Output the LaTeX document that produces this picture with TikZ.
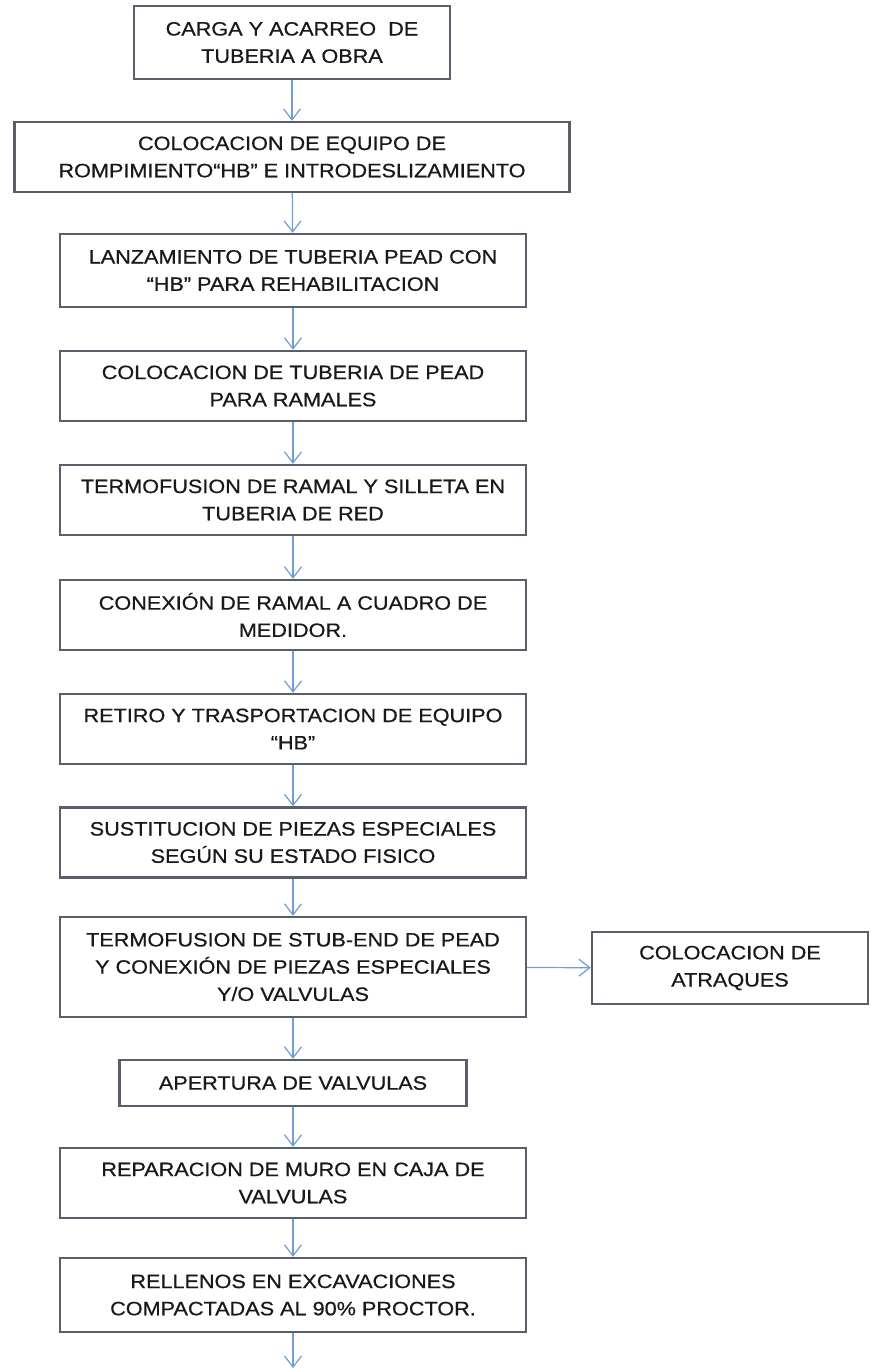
\documentclass[tikz,border=0pt]{standalone}
\usepackage{fontspec}
\setmainfont{Liberation Sans}[FakeStretch=1.12, FakeBold=0.6]
\usepackage{tikz}
\usetikzlibrary{arrows.meta}

\definecolor{borde}{RGB}{90,94,104}
\definecolor{azul}{RGB}{112,158,212}
\definecolor{texto}{RGB}{25,25,25}

\tikzset{
  caja/.style={draw=borde, line width=1.4pt, fill=white, align=center, text=texto,
    inner sep=0pt, font=\fontsize{11}{15.5}\selectfont, minimum width=9.32cm, minimum height=1.4cm},
  flecha/.style={draw=azul, line width=0.7pt, -{Straight Barb[length=2.2mm,width=3.4mm]}}
}

\begin{document}
\begin{tikzpicture}[x=0.02cm, y=-0.02cm]

  \useasboundingbox (0,0) rectangle (870,1368);

  \node[caja, minimum width=6.32cm, minimum height=1.46cm] (carga) at (292, 42.5)
    {CARGA Y ACARREO\ \ DE\\TUBERIA A OBRA};
  \node[caja, minimum width=11.1cm] (equipo) at (292, 157)
    {COLOCACION DE EQUIPO DE\\ROMPIMIENTO“HB” E INTRODESLIZAMIENTO};
  \node[caja, minimum height=1.46cm] (lanzamiento) at (293, 270.5)
    {LANZAMIENTO DE TUBERIA PEAD CON\\“HB” PARA REHABILITACION};
  \node[caja] (ramales) at (293, 386)
    {COLOCACION DE TUBERIA DE PEAD\\PARA RAMALES};
  \node[caja] (silleta) at (293, 500)
    {TERMOFUSION DE RAMAL Y SILLETA EN\\TUBERIA DE RED};
  \node[caja] (medidor) at (293, 615)
    {CONEXIÓN DE RAMAL A CUADRO DE\\MEDIDOR.};
  \node[caja] (retiro) at (293, 729)
    {RETIRO Y TRASPORTACION DE EQUIPO\\“HB”};
  \node[caja] (piezas) at (293, 842.5)
    {SUSTITUCION DE PIEZAS ESPECIALES\\SEGÚN SU ESTADO FISICO};
  \node[caja, minimum height=2cm] (stubend) at (293, 967)
    {TERMOFUSION DE STUB-END DE PEAD\\Y CONEXIÓN DE PIEZAS ESPECIALES\\Y/O VALVULAS};
  \node[caja, minimum width=5.52cm, minimum height=1.44cm] (atraques) at (730, 968)
    {COLOCACION DE\\ATRAQUES};
  \node[caja, minimum width=6.94cm, minimum height=0.92cm] (apertura) at (293, 1083)
    {APERTURA DE VALVULAS};
  \node[caja] (muro) at (293, 1183)
    {REPARACION DE MURO EN CAJA DE\\VALVULAS};
  \node[caja, minimum height=1.48cm] (rellenos) at (293, 1295)
    {RELLENOS EN EXCAVACIONES\\COMPACTADAS AL 90\% PROCTOR.};
  \coordinate (fin) at (293, 1368);

  \foreach \a/\b in {carga/equipo, equipo/lanzamiento, lanzamiento/ramales, ramales/silleta,
    silleta/medidor, medidor/retiro, retiro/piezas, piezas/stubend, stubend/apertura,
    apertura/muro, muro/rellenos}
  {
    \draw[flecha] (\a) -- (\b);
  }
  \draw[flecha] (rellenos) -- (fin);
  \draw[flecha] (stubend) -- (atraques);
\end{tikzpicture}
\end{document}
